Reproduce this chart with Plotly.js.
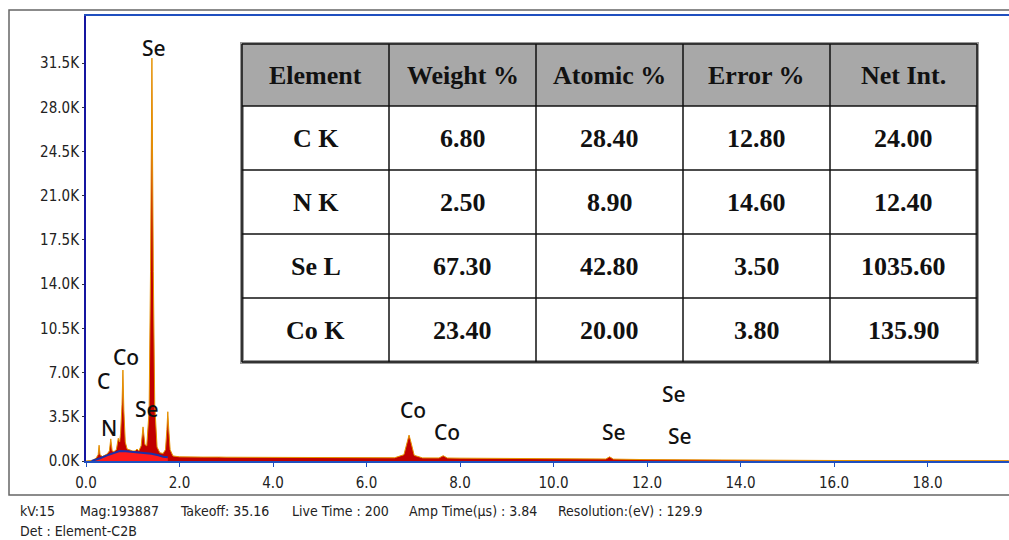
<!DOCTYPE html>
<html>
<head>
<meta charset="utf-8">
<script src="https://cdn.plot.ly/plotly-3.0.1.min.js"></script>
<style>html,body{margin:0;padding:0;background:#fff;}#chart{width:1009px;height:540px;}</style>
</head>
<body>
<div id="chart"></div>
<script>
// ---- Spectrum data (energy in keV, counts) ----
const energy = [0.00,0.10,0.15,0.22,0.26,0.28,0.30,0.35,0.40,0.45,0.50,0.53,0.56,0.60,0.65,0.69,0.72,0.74,0.77,0.79,0.81,0.84,0.88,0.95,1.00,1.05,1.09,1.13,1.18,1.22,1.26,1.30,1.35,1.38,1.41,1.44,1.47,1.52,1.58,1.65,1.70,1.73,1.75,1.77,1.80,1.86,2.00,2.50,2.72,2.78,2.84,3.00,4.00,5.00,6.00,6.60,6.80,6.87,6.91,6.95,7.02,7.20,7.55,7.64,7.73,8.00,9.00,10.00,11.00,11.12,11.20,11.28,12.00,13.00,14.00,16.00,18.00,19.74];
const counts = [0,0,50,250,500,1250,500,350,420,550,800,1750,800,750,900,1800,1500,2200,4500,7200,4000,1500,950,820,790,800,950,800,1200,2700,1300,1200,4000,15000,31900,15000,4500,1100,650,600,900,2500,3900,2500,900,400,330,310,310,360,310,300,290,280,265,255,500,1500,2050,1500,450,245,240,420,235,225,200,170,140,160,330,150,110,80,60,40,30,25];

// background fit (blue curve)
const bgEnergy = [0.12,0.20,0.30,0.45,0.60,0.72,0.85,1.00,1.20,1.40,1.55,1.65,1.75];
const bgCounts = [0,80,220,450,650,790,780,720,650,580,450,340,300];

// ---- Axis ticks ----
const xTickVals = [0,2,4,6,8,10,12,14,16,18];
const xTickText = ["0.0","2.0","4.0","6.0","8.0","10.0","12.0","14.0","16.0","18.0"];
const yTickVals = [0,3500,7000,10500,14000,17500,21000,24500,28000,31500];
const yTickText = ["0.0K","3.5K","7.0K","10.5K","14.0K","17.5K","21.0K","24.5K","28.0K","31.5K"];

// ---- Peak labels ----
const peakNames = ["Se","Co","C","N","Se","Co","Co","Se","Se","Se"];
const peakLabelX = [1.455,0.856,0.364,0.49,1.30,6.99,7.72,11.29,12.58,12.71];
const peakLabelY = [32700,8230,6330,2600,4100,4000,2300,2300,5300,2000];

// ---- Quantification table ----
const tableHeader = ["Element","Weight %","Atomic %","Error %","Net Int."];
const elements = ["C K","N K","Se L","Co K"];
const weightPct = ["6.80","2.50","67.30","23.40"];
const atomicPct = ["28.40","8.90","42.80","20.00"];
const errorPct = ["12.80","14.60","3.50","3.80"];
const netInt = ["24.00","12.40","1035.60","135.90"];

// ---- Footer info ----
const infoItems = ["kV:15","Mag:193887","Takeoff: 35.16","Live Time : 200","Amp Time(\u03bcs) : 3.84","Resolution:(eV) : 129.9"];
const infoLine2 = "Det : Element-C2B";

// ---- Layout geometry (pixels) ----
const W = 1009, H = 540;
const M = {l:86, r:0, t:16, b:79};
const PW = W - M.l - M.r, PH = H - M.t - M.b;
const px = x => (x - M.l) / PW;
const py = y => (H - M.b - y) / PH;

const narrow = "Liberation Sans Narrow, DejaVu Sans Condensed, Arial Narrow, sans-serif";

const traces = [
  {x: energy, y: counts, type: "scatter", mode: "lines", fill: "tozeroy",
   fillcolor: "#c00000", line: {color: "#e59200", width: 1}, hoverinfo: "x+y"},
  {x: bgEnergy, y: bgCounts, type: "scatter", mode: "lines", fill: "tozeroy",
   fillcolor: "#ff1a1a", line: {color: "#1c2fa8", width: 2}, hoverinfo: "x+y"}
];

const shapes = [];
const annotations = [];

// outer frame
shapes.push({type:"rect", xref:"paper", yref:"paper", x0:px(9), x1:px(1020), y0:py(10), y1:py(495),
  line:{color:"#666", width:1.5}, fillcolor:"rgba(0,0,0,0)", layer:"below"});

// table
const tL = 242, tR = 977, tT = 44, hH = 62, rH = 64;
const nCols = tableHeader.length;
const colW = (tR - tL) / nCols;
const rows = elements.map((e,i) => [e, weightPct[i], atomicPct[i], errorPct[i], netInt[i]]);
const tB = tT + hH + rows.length * rH;
shapes.push({type:"rect", xref:"paper", yref:"paper", x0:px(tL), x1:px(tR), y0:py(tT), y1:py(tB),
  line:{color:"#999", width:4}, fillcolor:"#ffffff"});
shapes.push({type:"rect", xref:"paper", yref:"paper", x0:px(tL), x1:px(tR), y0:py(tT), y1:py(tT+hH),
  line:{width:0}, fillcolor:"#a8a8a8"});
for (let r = 0; r <= rows.length + 1; r++) {
  const yy = r === 0 ? tT : tT + hH + (r-1) * rH;
  shapes.push({type:"line", xref:"paper", yref:"paper", x0:px(tL), x1:px(tR), y0:py(yy), y1:py(yy),
    line:{color:"#111", width:1.5}});
}
for (let c = 0; c <= nCols; c++) {
  const xx = tL + c * colW;
  shapes.push({type:"line", xref:"paper", yref:"paper", x0:px(xx), x1:px(xx), y0:py(tT), y1:py(tB),
    line:{color:"#111", width:1.5}});
}
const tableFont = {family:"Liberation Serif, Times New Roman, serif", size:26, color:"#111"};
tableHeader.forEach((h,c) => {
  annotations.push({xref:"paper", yref:"paper", x:px(tL + (c+0.5)*colW), y:py(tT + hH/2),
    text:"<b>"+h+"</b>", showarrow:false, xanchor:"center", yanchor:"middle", font:tableFont});
});
rows.forEach((row,r) => {
  row.forEach((v,c) => {
    annotations.push({xref:"paper", yref:"paper", x:px(tL + (c+0.5)*colW), y:py(tT + hH + (r+0.5)*rH),
      text:"<b>"+v+"</b>", showarrow:false, xanchor:"center", yanchor:"middle", font:tableFont});
  });
});

// peak labels
peakNames.forEach((n,i) => {
  annotations.push({x:peakLabelX[i], y:peakLabelY[i], xref:"x", yref:"y", text:n, showarrow:false,
    xanchor:"center", yanchor:"middle", font:{family:"Noto Sans, Open Sans, sans-serif", size:21, weight:500, color:"#111"}});
});

// footer
const infoX = [18,78,178,290,407,556];
infoItems.forEach((t,i) => {
  annotations.push({xref:"paper", yref:"paper", x:px(infoX[i]), y:py(511), text:t, showarrow:false,
    xanchor:"left", yanchor:"middle", font:{family:narrow, size:14, color:"#222"}});
});
annotations.push({xref:"paper", yref:"paper", x:px(18), y:py(531), text:infoLine2, showarrow:false,
  xanchor:"left", yanchor:"middle", font:{family:narrow, size:14, color:"#222"}});

const layout = {
  width: W, height: H, margin: M,
  paper_bgcolor: "#ffffff", plot_bgcolor: "#ffffff",
  showlegend: false,
  xaxis: {range:[0, PW/46.75], tickvals:xTickVals, ticktext:xTickText, showgrid:false, zeroline:false,
    showline:true, linecolor:"#1f4fbf", linewidth:2, mirror:true, ticks:"outside", ticklen:4,
    tickcolor:"#1f4fbf", ticklabelstandoff:3, tickfont:{family:narrow, size:15, color:"#222"}},
  yaxis: {range:[0, PH/12.63*1000], tickvals:yTickVals, ticktext:yTickText, showgrid:false, zeroline:false,
    showline:true, linecolor:"#1515a0", linewidth:2, ticks:"outside", ticklen:2, tickcolor:"#333",
    tickfont:{family:narrow, size:15, color:"#222"}},
  shapes: shapes,
  annotations: annotations
};

Plotly.newPlot("chart", traces, layout, {displayModeBar:false, staticPlot:true});
</script>
</body>
</html>
